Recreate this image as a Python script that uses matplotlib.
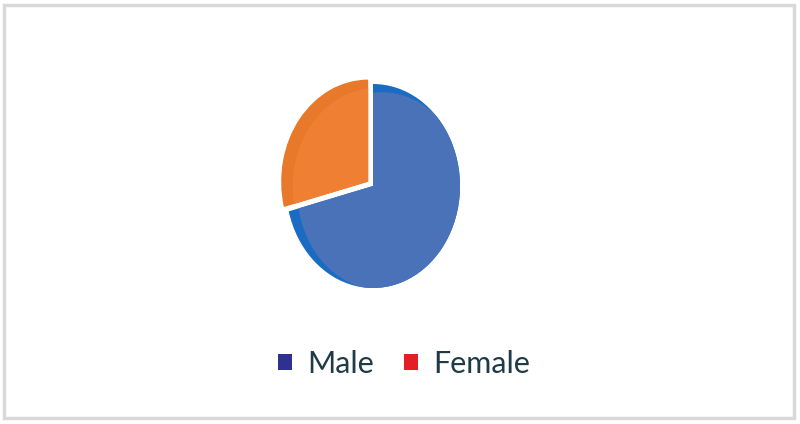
import matplotlib.pyplot as plt
from matplotlib.patches import Patch, Rectangle, Ellipse

labels = ['Male', 'Female']
shares = [71, 29]
pie_colors = ['#4A72B8', '#EE7F33']
rim_colors = ['#1A6CC2', '#E8782A']
legend_colors = ['#2E3192', '#E31E24']

W, H = 800, 424
fig = plt.figure(figsize=(W / 100, H / 100), dpi=100)
fig.patch.set_facecolor('white')

# light grey frame round the chart
fig.patches.append(Rectangle((4 / W, 6 / H), 790 / W, 413 / H, transform=fig.transFigure,
                             fill=False, edgecolor='#D9D9D9', linewidth=2.5))

# pie is drawn slightly taller than wide, like the source
cx, cy, rx, ry = 373, 186, 87, 102
pad = 1.1
ax = fig.add_axes([(cx - rx * pad) / W, (H - cy - ry * pad) / H,
                   2 * rx * pad / W, 2 * ry * pad / H])
explode = [0, 0.07]
wedges, _ = ax.pie(shares, colors=rim_colors, startangle=90, counterclock=False,
                   explode=explode, radius=1.0, wedgeprops=dict(linewidth=0))
# lighter fill inside each slice, leaving a darker rim at the outer corners
for w, c in zip(wedges, pie_colors):
    ox, oy = w.center
    glow = Ellipse((ox + 0.1, oy - 0.05), 1.94, 1.94, facecolor=c, edgecolor='none')
    ax.add_patch(glow)
    glow.set_clip_path(w)
ax.set_xlim(-pad, pad)
ax.set_ylim(-pad, pad)
ax.set_aspect('auto')
ax.axis('off')

handles = [Patch(facecolor=c, edgecolor='none') for c in legend_colors]
leg = fig.legend(handles, labels, loc='center', bbox_to_anchor=(404 / W, (H - 364) / H),
                 ncol=2, frameon=False, handlelength=0.45, handleheight=0.45,
                 handletextpad=0.5, columnspacing=1.0,
                 prop={'family': 'Lato', 'size': 22})
for t in leg.get_texts():
    t.set_color('#1F3B48')

fig.savefig('out.png', dpi=100)
